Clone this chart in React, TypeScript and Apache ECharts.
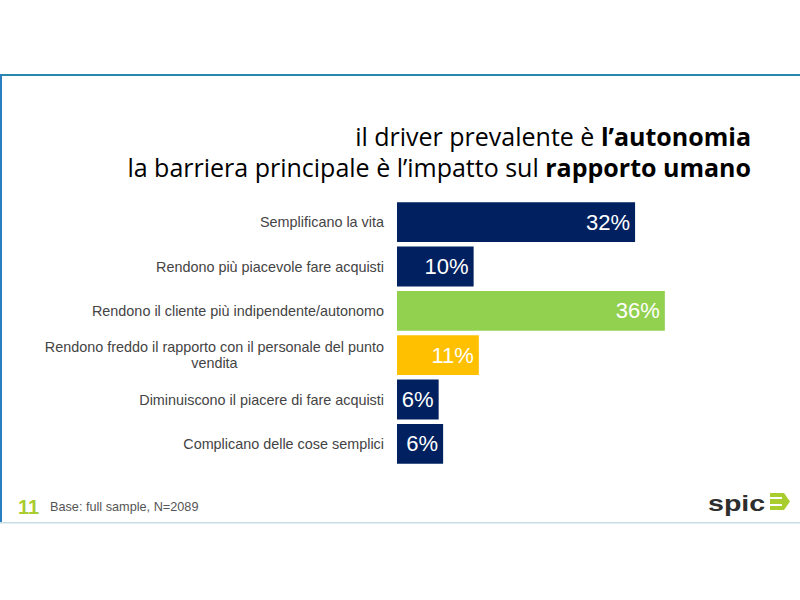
import React, { useEffect, useRef } from "react";
import * as echarts from "echarts";

const categories = [
  "Semplificano la vita",
  "Rendono più piacevole fare acquisti",
  "Rendono il cliente più indipendente/autonomo",
  "Rendono freddo il rapporto con il personale del punto\nvendita",
  "Diminuiscono il piacere di fare acquisti",
  "Complicano delle cose semplici",
];
const values = [32.0, 10.3, 36.0, 11.0, 5.6, 6.2];
const barColors = ["#002060", "#002060", "#92D050", "#FFC000", "#002060", "#002060"];

const titleLine1 = ["il driver prevalente è ", "l’autonomia"];
const titleLine2 = ["la barriera principale è l’impatto sul ", "rapporto umano"];
const pageNumber = "11";
const baseNote = "Base: full sample, N=2089";

export default function App() {
  const ref = useRef<HTMLDivElement>(null);
  useEffect(() => {
    if (!ref.current) return;
    const chart = echarts.init(ref.current, undefined, { renderer: "svg" });
    const sans = "'Liberation Sans', Arial, sans-serif";
    const titleFont = "'Open Sans', 'Noto Sans', sans-serif";
    const labelSize = 14.4;
    chart.setOption({
      animation: false,
      backgroundColor: "#ffffff",
      grid: { left: 397, right: 31, top: 200, bottom: 134, containLabel: false },
      xAxis: {
        type: "value",
        min: 0,
        max: 50,
        show: false,
      },
      yAxis: {
        type: "category",
        inverse: true,
        data: categories,
        axisLine: { show: false },
        axisTick: { show: false },
        splitLine: { show: false },
        axisLabel: {
          margin: 13,
          fontSize: labelSize,
          color: "#444444",
          fontFamily: sans,
          lineHeight: 16,
          formatter: (v: string) => {
            if (v.indexOf("\n") >= 0) {
              const [a, b] = v.split("\n");
              return "{a|" + a + "}\n{c|" + b + "}";
            }
            return v;
          },
          rich: {
            a: { fontSize: labelSize, color: "#444444", fontFamily: sans, lineHeight: 16, align: "right" },
            c: { fontSize: labelSize, color: "#444444", fontFamily: sans, lineHeight: 16, align: "center" },
          },
        },
      },
      series: [
        {
          type: "bar",
          data: values.map((v, i) => ({ value: v, itemStyle: { color: barColors[i] } })),
          barCategoryGap: "10%",
          label: {
            show: true,
            position: "insideRight",
            distance: 5,
            color: "#ffffff",
            fontSize: 22,
            fontFamily: sans,
            formatter: (p: any) => Math.round(p.value) + "%",
          },
        },
      ],
      graphic: [
        { type: "rect", shape: { x: 0, y: 74, width: 800, height: 2 }, style: { fill: "#2b88ad" } },
        { type: "rect", shape: { x: 0, y: 74, width: 2, height: 449 }, style: { fill: "#2a7fc0" } },
        { type: "rect", shape: { x: 0, y: 522, width: 800, height: 1.5 }, style: { fill: "#c9dde6" } },
        {
          type: "text",
          x: 751,
          y: 120,
          style: {
            text:
              "{n|" + titleLine1[0] + "}{b|" + titleLine1[1] + "}\n{n|" + titleLine2[0] + "}{b|" + titleLine2[1] + "}",
            align: "right",
            verticalAlign: "top",
            rich: {
              n: { fontSize: 25, fontFamily: titleFont, color: "#474747", lineHeight: 31 },
              b: { fontSize: 25, fontFamily: titleFont, fontWeight: "bold", color: "#333333", lineHeight: 31 },
            },
          },
        },
        {
          type: "text",
          x: 18,
          y: 507,
          style: {
            text: pageNumber,
            fontSize: 20,
            fontWeight: "bold",
            fontFamily: sans,
            fill: "#a9cc2e",
            verticalAlign: "middle",
          },
        },
        {
          type: "text",
          x: 50,
          y: 507,
          style: {
            text: baseNote,
            fontSize: 12.7,
            fontFamily: sans,
            fill: "#555555",
            verticalAlign: "middle",
          },
        },
        {
          type: "text",
          x: 708,
          y: 503,
          scaleX: 1.3,
          style: {
            text: "spic",
            fontSize: 22,
            fontWeight: "bold",
            fontFamily: sans,
            fill: "#2e2e2e",
            verticalAlign: "middle",
          },
        },
        {
          type: "polygon",
          shape: { points: [[770, 493], [784, 493], [790, 501.5], [784, 510], [770, 510]] },
          style: { fill: "#a9cc2e" },
        },
        { type: "rect", shape: { x: 770, y: 497, width: 12, height: 2 }, style: { fill: "#ffffff" } },
        { type: "rect", shape: { x: 770, y: 504, width: 12, height: 2 }, style: { fill: "#ffffff" } },
      ],
    });
    return () => chart.dispose();
  }, []);
  return (
    <div
      ref={ref}
      style={{ position: "fixed", left: 0, top: 0, width: 800, height: 600, background: "#fff" }}
    />
  );
}
